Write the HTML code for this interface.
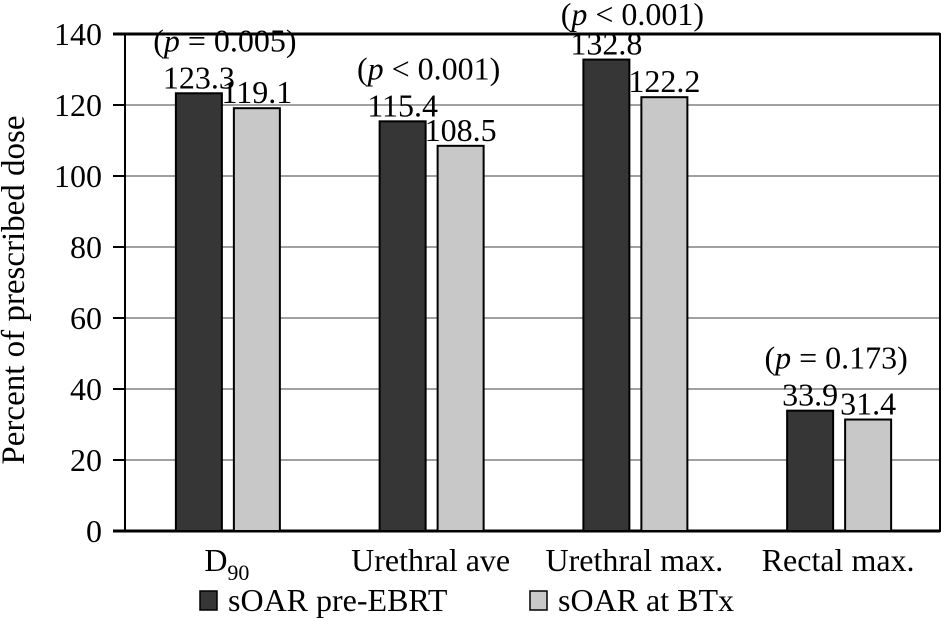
<!DOCTYPE html>
<html><head><meta charset="utf-8"><style>
body{margin:0;background:#fff;}
svg{display:block;font-family:"Liberation Serif",serif;}
</style></head><body>
<svg id="chart" width="941" height="621"></svg>
<script>
const categories=["D90","Urethral ave","Urethral max.","Rectal max."];
const preEBRT=[123.3,115.4,132.8,33.9];
const atBTx=[119.1,108.5,122.2,31.4];
const pLabels=["(p = 0.005)","(p < 0.001)","(p < 0.001)","(p = 0.173)"];
const yTicks=[0,20,40,60,80,100,120,140];
const NS="http://www.w3.org/2000/svg";
const svgEl=document.getElementById("chart");
const X0=125,X1=940,Y0=531,Y1=34,YMAX=140,FS=32;
const yScale=v=>Y0-(v/YMAX)*(Y0-Y1);
const gw=(X1-X0)/categories.length;
const cx=i=>X0+gw*(i+0.5);
function mk(t,a){const e=document.createElementNS(NS,t);for(const k in a)e.setAttribute(k,a[k]);svgEl.appendChild(e);return e;}
yTicks.forEach((t)=>{
  if(t>0&&t<YMAX){const g=mk("line",{x1:X0,x2:X1,y1:yScale(t),y2:yScale(t),stroke:"#a0a0a0","stroke-width":2});
  
  }
  const tk=mk("line",{x1:113,x2:X0,y1:yScale(t),y2:yScale(t),stroke:"#000","stroke-width":2});
  
  
  const tl=mk("text",{x:102,y:yScale(t)+11,"text-anchor":"end","font-size":FS});
  tl.textContent=t;
  
  
});
const frame=mk("rect",{x:X0,y:Y1,width:X1-X0,height:Y0-Y1,fill:"none",stroke:"#000","stroke-width":2});


const topAxis=mk("line",{x1:113,x2:X1,y1:Y1,y2:Y1,stroke:"#000","stroke-width":3});


const baseAxis=mk("line",{x1:113,x2:X1,y1:Y0,y2:Y0,stroke:"#000","stroke-width":3});


categories.forEach((c,i)=>{
  const c0=cx(i);
  [[preEBRT[i],c0-51,"#363636","bar-pre-ebrt"],[atBTx[i],c0+7,"#c8c8c8","bar-at-btx"]].forEach(([v,x,f,n])=>{
    const r=mk("rect",{x:x,y:yScale(v),width:46,height:Y0-yScale(v),fill:f,stroke:"#000","stroke-width":2});
    
    
    const t=mk("text",{x:x+23,y:yScale(v)-5,"text-anchor":"middle","font-size":FS});
    t.textContent=v.toFixed(1);
    
    
  });
  const top=Math.min(yScale(preEBRT[i]),yScale(atBTx[i]));
  const p=mk("text",{x:c0-2,y:Math.max(top-42,25),"text-anchor":"middle","font-size":FS});
  const rest=pLabels[i].slice(2);
  p.innerHTML='(<tspan font-style="italic">p</tspan>'+rest.replace("<","&lt;");
  
  
  const cl=mk("text",{x:c0,y:571,"text-anchor":"middle","font-size":FS});
  if(c==="D90"){cl.innerHTML='D<tspan font-size="22" dy="9">90</tspan>';}else cl.textContent=c;
  
  
});
const yt=mk("text",{x:0,y:0,transform:"translate(24,290) rotate(-90)","text-anchor":"middle","font-size":33});
yt.textContent="Percent of prescribed dose";


[[200,"#363636","sOAR pre-EBRT","legend-entry-pre-ebrt"],[530,"#c8c8c8","sOAR at BTx","legend-entry-at-btx"]].forEach(([x,f,l,n])=>{
  const s=mk("rect",{x:x,y:591,width:17,height:19,fill:f,stroke:"#000","stroke-width":1.5});
  
  
  const t=mk("text",{x:x+28,y:611,"font-size":FS});
  t.textContent=l;
  
  
});
</script>
</body></html>
